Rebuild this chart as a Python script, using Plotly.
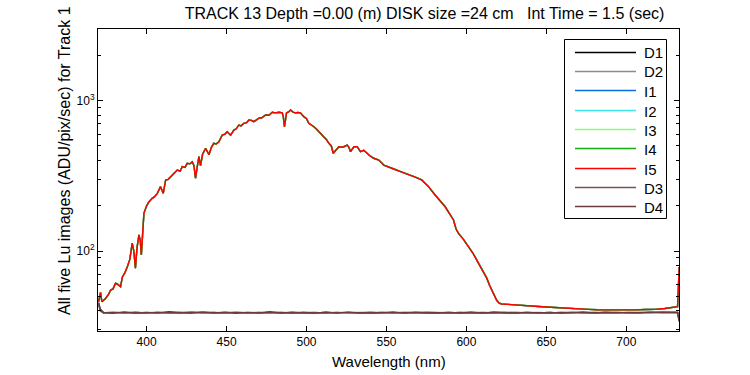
import plotly.graph_objects as go

# ---------------- data ----------------
sig_wl = [370, 371.2, 372, 374, 376, 377.5, 379, 380.6, 382, 383.7, 384.8, 386.5, 388, 389.5,
          391, 392, 393, 394, 395.2, 396, 396.7, 397.5, 398.3, 400, 401.5, 403.5, 405, 406.7,
          408.7, 410.4, 411.9, 413.5, 415, 417, 419.2, 421, 422.3, 424, 425.4, 427, 428.6,
          429.6, 430.6, 431.6, 432.7, 433.7, 435, 436.9, 439, 440.5, 442, 443.5, 445.2, 447.3,
          449, 450.4, 452.5, 454.6, 456, 457.7, 459, 460.8, 462.5, 464, 465.5, 467, 468.5,
          470.2, 472, 474.4, 476.5, 478.6, 480.5, 482.7, 484.8, 485.5, 486.2, 487.5, 489, 490,
          491.5, 493, 494.5, 496.2, 498.3, 500, 501.4, 503, 504.6, 506, 507.7, 509, 510.8,
          512.5, 514, 515.5, 516.7, 518.1, 520.2, 522, 523.3, 525.4, 526.5, 527.5, 528.5,
          529.6, 531.7, 533.7, 535.8, 537.5, 539, 542, 545.2, 548.3, 551.5, 555, 558, 561.7,
          565, 568, 572, 576, 580.4, 583, 586.7, 589, 591.9, 593.5, 595, 598, 601.2, 604,
          607.5, 610, 612.7, 614.5, 615.8, 617.5, 618.9, 620.5, 622, 626, 630, 634.6, 640,
          645, 650, 655.4, 660, 665, 670, 676.2, 682, 690, 697, 705, 712, 718, 724, 729, 732,
          732.6, 733]

I5 = [46, 53, 46, 48, 51, 55, 56, 61, 60, 58, 67, 72, 79, 88,
      113, 100, 77, 105, 128, 118, 94, 140, 178, 200, 213, 224, 230, 242,
      268, 242, 297, 300, 312, 325, 346, 340, 364, 360, 383, 380, 392,
      370, 305, 360, 424, 370, 440, 482, 437, 490, 520, 515, 533, 591,
      600, 622, 590, 638, 650, 689, 680, 707, 715, 745, 740, 725, 745,
      764, 770, 804, 800, 838, 830, 838, 830, 780, 671, 830, 845, 867,
      840, 830, 835, 830, 783, 760, 707, 690, 671, 650, 622, 600, 576,
      550, 520, 500, 447, 468, 494, 490, 494, 507, 490, 458, 480,
      494, 494, 458, 468, 450, 435, 414, 403, 373, 360, 350, 340, 329,
      320, 310, 297, 270, 236, 220, 197, 180, 161, 140, 131, 120, 107, 97,
      83, 74, 66, 59, 55, 50, 47, 45, 44.4, 44.2, 43.8, 43.7, 43.2,
      42.8, 42.4, 42.0, 41.7, 41.5, 41.2, 40.9, 40.7, 40.6, 40.5, 40.6, 40.8, 40.9, 41.5, 42.3, 42.7,
      60, 78]
I1 = list(I5)
I2 = list(I5)
I3 = list(I5)
I4 = list(I5)

dark_wl = [370, 371, 373, 379, 386, 393, 400, 407, 414, 421, 428, 435, 442, 449, 456, 463,
           470, 477, 484, 491, 498, 505, 512, 519, 526, 533, 540, 547, 554, 561, 568, 575,
           582, 589, 596, 603, 610, 617, 624, 631, 638, 645, 652, 659, 666, 673, 680, 687,
           694, 701, 708, 715, 722, 729, 732, 733]
D1 = [45, 41, 39.0, 38.6, 39.2, 38.8, 39.1, 38.7, 39.3, 38.9, 38.6, 39.2, 38.8, 39.0, 38.6, 39.1,
      38.8, 39.3, 38.7, 39.0, 38.9, 38.6, 39.2, 38.8, 39.1, 38.7, 39.0, 38.8, 39.2, 38.6, 39.0, 38.9,
      38.7, 39.1, 38.8, 39.0, 38.6, 39.2, 38.9, 38.7, 39.0, 38.8, 39.1, 38.6, 38.9, 39.2, 38.7, 39.0,
      38.8, 39.1, 38.9, 39.2, 39.0, 39.3, 39.0, 35]
D2 = [46, 40, 38.7, 39.2, 38.8, 39.3, 38.6, 39.0, 38.8, 39.2, 39.0, 38.7, 39.1, 38.6, 39.2, 38.8,
      39.0, 38.7, 39.1, 38.8, 39.2, 38.9, 38.7, 39.1, 38.6, 39.0, 39.2, 38.7, 38.9, 39.1, 38.8, 39.2,
      39.0, 38.7, 39.1, 38.6, 39.0, 38.8, 39.2, 38.9, 38.7, 39.1, 38.8, 39.0, 39.2, 38.7, 39.0, 38.8,
      39.1, 38.7, 39.0, 38.9, 39.3, 39.1, 38.8, 34]
D3 = [44, 40, 38.9, 39.1, 38.7, 39.0, 38.8, 39.2, 38.6, 39.0, 39.1, 38.8, 38.7, 39.2, 38.9, 38.6,
      39.1, 38.9, 38.8, 39.2, 38.7, 39.0, 38.8, 39.1, 38.9, 38.6, 38.9, 39.1, 38.7, 39.0, 39.2, 38.7,
      38.9, 39.0, 38.7, 39.2, 38.8, 39.0, 38.7, 39.1, 38.9, 38.7, 39.0, 38.8, 39.1, 38.9, 38.7, 39.2,
      38.9, 39.0, 38.7, 39.1, 39.2, 39.0, 39.2, 35]
D4 = [45, 41, 38.8, 38.9, 39.1, 38.7, 39.0, 38.9, 39.0, 38.7, 39.2, 38.9, 39.0, 38.8, 39.1, 38.9,
      38.7, 39.0, 39.1, 38.7, 39.1, 38.8, 39.0, 38.7, 39.2, 38.9, 38.7, 39.0, 38.9, 38.8, 38.9, 39.1,
      38.8, 38.8, 39.0, 38.9, 39.1, 38.7, 39.0, 38.8, 39.1, 38.9, 38.7, 39.1, 38.8, 39.0, 38.9, 38.8,
      39.0, 38.9, 39.1, 38.8, 39.0, 39.2, 38.9, 34]

names = ["D1", "D2", "I1", "I2", "I3", "I4", "I5", "D3", "D4"]
colors = ["#000000", "#8c8c8c", "#0a6fe0", "#3ee8ea", "#80ff80", "#10b010", "#ff0000",
          "#7f4f4f", "#6a3c3c"]
series_x = [dark_wl, dark_wl, sig_wl, sig_wl, sig_wl, sig_wl, sig_wl, dark_wl, dark_wl]
series_y = [D1, D2, I1, I2, I3, I4, I5, D3, D4]

x_ticks = [400, 450, 500, 550, 600, 650, 700]
y_ticks = [100, 1000]
y_ticktext = ["10<sup>2</sup>", "10<sup>3</sup>"]
y_minor = [30, 40, 50, 60, 70, 80, 90, 200, 300, 400, 500, 600, 700, 800, 900, 2000, 3000]

title_text = "TRACK 13 Depth =0.00 (m) DISK size =24 cm   Int Time = 1.5 (sec)"
x_label = "Wavelength (nm)"
y_label = "All five Lu images (ADU/pix/sec) for Track 1"

# ---------------- figure ----------------
W, H = 750, 375
L, R, T, B = 98, 71, 29, 44
pw, ph = W - L - R, H - T - B
FONT = "Arial, Liberation Sans, Helvetica, sans-serif"

def px_x(p):
    return (p - L) / pw

def px_y(p):
    return (H - B - p) / ph

fig = go.Figure()
for nm, c, xs, ys in zip(names, colors, series_x, series_y):
    fig.add_trace(go.Scatter(x=xs, y=ys, mode="lines", name=nm,
                             line=dict(color=c, width=1.4), showlegend=False))

fig.update_layout(
    width=W, height=H,
    margin=dict(l=L, r=R, t=T, b=B, pad=0),
    paper_bgcolor="white", plot_bgcolor="white",
    font=dict(family=FONT, size=12, color="black"),
    title=dict(text=title_text, x=px_x(424.5), xref="paper", xanchor="center",
               y=1 - 13.5 / H, yref="container", yanchor="middle",
               font=dict(family=FONT, size=16, color="black")),
)
fig.update_xaxes(range=[369.6, 732.9], tickvals=x_ticks, ticks="inside", ticklen=5,
                 tickcolor="black", showline=True, linecolor="black", linewidth=1,
                 mirror="ticks", showgrid=False, zeroline=False,
                 tickfont=dict(family=FONT, size=12, color="black"))
fig.update_yaxes(type="log", range=[1.468, 3.477], tickvals=y_ticks, ticktext=y_ticktext,
                 ticks="inside", ticklen=5, tickcolor="black", showline=True,
                 linecolor="black", linewidth=1, mirror="ticks", showgrid=False,
                 zeroline=False, tickfont=dict(family=FONT, size=12, color="black"),
                 minor=dict(tickvals=y_minor, ticks="inside", ticklen=3,
                            tickcolor="black", showgrid=False))

# axis labels
fig.add_annotation(text=x_label, xref="paper", yref="paper", x=px_x(388.6), y=px_y(361),
                   xanchor="center", yanchor="middle", showarrow=False,
                   font=dict(family=FONT, size=15, color="black"))
fig.add_annotation(text=y_label, xref="paper", yref="paper", x=px_x(64), y=px_y(161),
                   xanchor="center", yanchor="middle", showarrow=False, textangle=-90,
                   font=dict(family=FONT, size=16, color="black"))

# legend (drawn as a MATLAB-style box)
lx0, lx1, ly0, ly1 = 564, 666, 39, 218
fig.add_shape(type="rect", xref="paper", yref="paper", x0=px_x(lx0 + 0.5), x1=px_x(lx1 + 0.5),
              y0=px_y(ly1 + 0.5), y1=px_y(ly0 + 0.5), line=dict(color="black", width=1),
              fillcolor="white", layer="above")
for i, (nm, c) in enumerate(zip(names, colors)):
    yy = 52 + round(i * 19.25)
    fig.add_shape(type="line", xref="paper", yref="paper", x0=px_x(575), x1=px_x(636),
                  y0=px_y(yy + 0.5), y1=px_y(yy + 0.5), line=dict(color=c, width=1.4),
                  layer="above")
    fig.add_annotation(text=nm, xref="paper", yref="paper", x=px_x(642), y=px_y(yy + 1),
                       xanchor="left", yanchor="middle", showarrow=False,
                       font=dict(family=FONT, size=15, color="black"))

fig.write_html("out.html", config={"displayModeBar": False},
               post_script="document.body.style.margin='0px';")
